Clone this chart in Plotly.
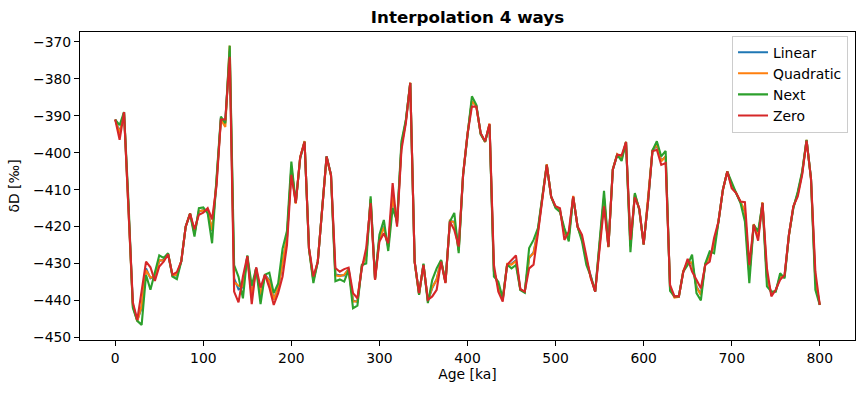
import plotly.graph_objects as go

age = list(range(0, 805, 5))

zero = [-391, -396.5, -389, -415, -440.5, -445.3, -437.5, -429.5, -431, -434.7,
        -430.8, -429.5, -427.5, -433, -432.3, -429.4, -420, -416.5, -420.7, -416.8,
        -416.2, -415, -418, -409, -391, -391, -374, -437.6, -440.5, -433.5,
        -428, -441, -431, -436.5, -433, -436.5, -441.2, -438, -433.5, -425,
        -406, -413.6, -401.3, -397, -425.8, -433.5, -429.5, -415, -401, -406,
        -431.2, -432.2, -431.5, -431.1, -438, -439.4, -431.3, -425.8, -413.6, -434.4,
        -424, -421.8, -424.5, -408.2, -420, -399.2, -392, -381.1, -429.5, -438,
        -430.4, -439.8, -438.9, -437.1, -429.5, -435.3, -418.6, -420.9, -425.4, -406,
        -395, -387.5, -387.5, -394.7, -396.9, -392.2, -430.4, -437.6, -440.3, -430.3,
        -429, -427.8, -436.9, -437.6, -431.3, -430.3, -421.8, -412.3, -403.3, -411.9,
        -414.5, -415, -423.6, -421.3, -411.9, -420, -422.2, -428, -434, -437.6,
        -425.8, -414.5, -425.4, -404.6, -400.5, -400.7, -397.1, -423.6, -412.1, -415,
        -424.8, -413.2, -399.6, -399.2, -403.3, -402.8, -435.8, -438.9, -438.9, -432.3,
        -428.7, -432.2, -434.4, -436.7, -430.4, -429.5, -423.1, -418.6, -410, -405.1,
        -409.6, -410.9, -413.2, -413.4, -430.4, -419.5, -423.8, -413.6, -431.3, -438.9,
        -437.1, -434.4, -433.1, -422.2, -414.5, -411.8, -406, -396.7, -406.9, -432.2,
        -441.2]

nxt = [-391, -392.5, -389, -413, -442, -445.5, -446.6, -433.1, -437.1, -432,
       -427.8, -428.5, -427.2, -433.5, -434.2, -429.4, -420, -416.5, -422.7, -415,
       -414.8, -416.4, -424.5, -407, -390.2, -392, -371, -430.4, -433.6, -439.4,
       -427.8, -436, -431.3, -441, -433, -432.5, -438, -435.4, -426, -421.2,
       -402.4, -413.6, -401.5, -397, -426, -435.3, -429.5, -415, -401, -406,
       -434.8, -434.3, -434.9, -431.7, -442.1, -441.4, -430.4, -430, -411.8, -434,
       -422.2, -418.2, -426.6, -415, -418.6, -396.9, -391.1, -381.1, -429.5, -438.5,
       -430, -440.7, -434.4, -431.3, -429, -435, -418.6, -416.3, -427.2, -406,
       -395, -384.7, -387, -395, -397, -392.5, -433.5, -434.9, -439.4, -430.3,
       -431.3, -430.4, -437.2, -437.9, -425.8, -423.6, -420.4, -412, -403.3, -411.9,
       -415, -416, -420.4, -424, -412, -420, -424, -430.4, -433.5, -437.6,
       -424.2, -410.3, -425.4, -404.6, -400.5, -402.2, -397.1, -426.9, -410.9, -415.4,
       -424.8, -413.2, -399.4, -396.9, -401, -399.5, -437.4, -438.9, -438.9, -432.2,
       -430.4, -427.6, -438, -440, -430, -426.7, -427.2, -418.6, -410, -405.1,
       -408.2, -410.9, -413.6, -418.6, -435.3, -419.5, -421.3, -413.6, -436.2, -437.6,
       -437.6, -432.6, -434, -422.2, -415, -410.5, -405.1, -396.5, -406.9, -437.1,
       -441.2]

linear = [-391, -394.5, -389, -414, -441, -445.4, -442, -431.3, -434, -433.4,
          -429.3, -429, -427.4, -433.2, -433.2, -429.4, -420, -416.5, -421.7, -416,
          -415.5, -415.7, -421.2, -408, -390.6, -391.5, -372.5, -434, -437, -436.4,
          -428, -438.5, -431.2, -438.7, -433, -434.5, -439.6, -436.7, -429.7, -423.1,
          -404.2, -413.6, -401.4, -397, -425.9, -434.4, -429.5, -415, -401, -406,
          -433, -433.2, -433.2, -431.4, -440, -440.4, -430.8, -427.9, -412.7, -434.2,
          -423.1, -420, -425.5, -411.6, -419.3, -398, -391.5, -381.1, -429.5, -438.2,
          -430.2, -440.2, -436.6, -434.2, -429.2, -435.1, -418.6, -418.6, -426.3, -406,
          -395, -386.1, -387.2, -394.8, -397, -392.3, -432, -436.2, -439.8, -430.3,
          -430.1, -429.1, -437, -437.7, -428.5, -427, -421.1, -412.1, -403.3, -411.9,
          -414.7, -415.5, -422, -422.6, -411.9, -420, -423.1, -429.2, -433.7, -437.6,
          -425, -412.4, -425.4, -404.6, -400.5, -401.4, -397.1, -425.2, -411.5, -415.2,
          -424.8, -413.2, -399.5, -398, -402.1, -401.1, -436.6, -438.9, -438.9, -432.2,
          -429.5, -429.9, -436.2, -438.3, -430.2, -428.1, -425.1, -418.6, -410, -405.1,
          -408.9, -410.9, -413.4, -416, -432.8, -419.5, -422.5, -413.6, -433.7, -438.2,
          -437.3, -433.5, -433.5, -422.2, -414.7, -411.1, -405.5, -396.6, -406.9, -434.6,
          -441.2]

quadratic = [-391, -394.8, -389, -414.5, -441.5, -445.6, -441.5, -431.8, -433.8, -433.6,
             -429.1, -429.2, -427.3, -433.3, -433, -429.3, -420, -416.4, -421.9, -415.8,
             -415.6, -415.9, -421, -407.6, -391, -393, -371, -435, -436, -436.2,
             -428.2, -438.8, -431.4, -438.4, -433.2, -434.8, -439.8, -436.5, -429.5, -423,
             -404, -413.8, -401.2, -396.8, -426, -434.6, -429.3, -415.2, -401.2, -406.2,
             -433.2, -433.4, -433, -431.6, -440.3, -440.2, -430.6, -428, -412.5, -434.4,
             -423.2, -420.2, -425.3, -411.8, -419.1, -398.2, -391.4, -381, -429.7, -438.4,
             -430.3, -440, -436.4, -434.4, -429.1, -435.2, -418.4, -418.8, -426.5, -405.8,
             -394.8, -386, -387.4, -394.9, -397.1, -392.1, -432.2, -436, -439.7, -430.1,
             -430.3, -429.3, -437.1, -437.6, -428.3, -427.2, -421.2, -412, -403.1, -412,
             -414.8, -415.6, -421.8, -422.8, -411.7, -420.2, -423.3, -429, -433.8, -437.5,
             -424.8, -412.2, -425.6, -404.4, -400.4, -401.6, -397, -425.4, -411.2, -415.3,
             -424.9, -413, -399.3, -397.8, -402.3, -401, -436.8, -439.2, -439, -432,
             -429.6, -429.7, -436.4, -438.5, -430, -428.3, -425.2, -418.5, -410.1, -405,
             -409, -410.8, -413.5, -415.8, -433, -419.3, -422.7, -413.4, -433.9, -438,
             -437.4, -433.6, -433.4, -422.4, -414.6, -411.2, -405.4, -396.5, -407.1, -434.8,
             -441.2]

series_names = ["Linear", "Quadratic", "Next", "Zero"]
series_values = [linear, quadratic, nxt, zero]
colors = ["#1f77b4", "#ff7f0e", "#2ca02c", "#d62728"]

y_tick_vals = [-450, -440, -430, -420, -410, -400, -390, -380, -370]
y_tick_text = ["\u2212450", "\u2212440", "\u2212430", "\u2212420", "\u2212410",
               "\u2212400", "\u2212390", "\u2212380", "\u2212370"]
x_tick_vals = [0, 100, 200, 300, 400, 500, 600, 700, 800]

FONT = "DejaVu Sans"

fig = go.Figure()
for name, vals, col in zip(series_names, series_values, colors):
    fig.add_trace(go.Scatter(x=age, y=vals, mode="lines", name=name,
                             line=dict(color=col, width=2.1)))

axis_common = dict(showline=True, mirror=True, linecolor="black", linewidth=1.1,
                   ticks="outside", ticklen=5, tickwidth=1.1, tickcolor="black",
                   showgrid=False, zeroline=False, automargin=False,
                   tickfont=dict(family=FONT, size=13.9, color="black"))

fig.update_layout(
    width=864, height=393,
    margin=dict(l=80, r=9, t=32, b=53),
    paper_bgcolor="white", plot_bgcolor="white",
    font=dict(family=FONT, size=13.9, color="black"),
    title=dict(text="<b>Interpolation 4 ways</b>", x=0.5, xref="paper",
               y=1 - 17.5 / 393, yref="container", yanchor="middle", xanchor="center",
               font=dict(family=FONT, size=16.7, color="black")),
    xaxis=dict(range=[-40, 840], tickvals=x_tick_vals,
               title=dict(text="Age [ka]", standoff=4,
                          font=dict(family=FONT, size=13.9)),
               **axis_common),
    yaxis=dict(range=[-450.7, -367.3], tickvals=y_tick_vals, ticktext=y_tick_text,
               title=dict(text="\u03b4D [\u2030]", standoff=10,
                          font=dict(family=FONT, size=13.9)),
               **axis_common),
    legend=dict(x=0.991, y=0.988, xanchor="right", yanchor="top",
                bgcolor="rgba(255,255,255,0.8)", bordercolor="#cccccc", borderwidth=1,
                font=dict(family=FONT, size=13.9), itemwidth=30,
                tracegroupgap=0),
    showlegend=True,
)

fig.write_html("out.html", config={"displayModeBar": False},
               post_script="document.body.style.margin='0';document.body.style.padding='0';")
